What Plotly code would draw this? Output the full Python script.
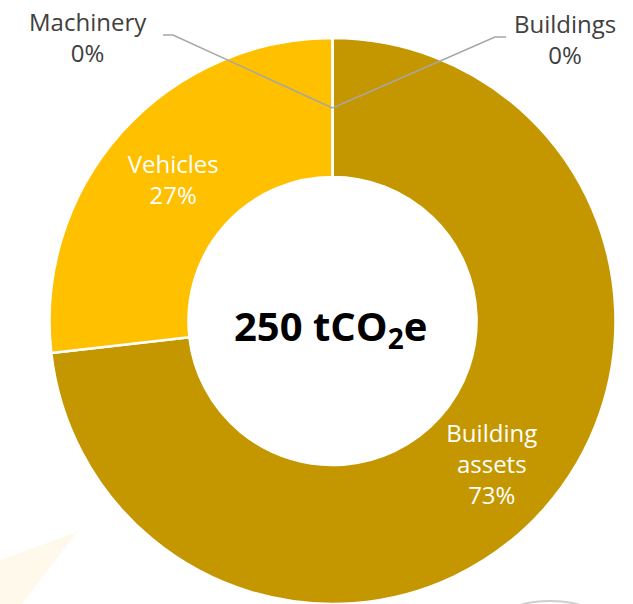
import plotly.graph_objects as go

# ---- data ----
categories = ["Buildings", "Building assets", "Vehicles", "Machinery"]
display_names = ["Buildings", "Building<br>assets", "Vehicles", "Machinery"]
values = [0, 183, 67, 0]          # tCO2e
colors = ["#8C6A00", "#C49700", "#FFC000", "#FFD966"]
total_label = "250 tCO<sub>2</sub>e"

W, H = 633, 604
total = sum(values)


def px(x):
    return x / W


def py(y):
    return 1 - y / H


fig = go.Figure()
fig.add_trace(go.Pie(
    labels=categories,
    values=values,
    text=display_names,
    texttemplate="%{text}<br>%{percent:.0%}",
    textposition=["none", "inside", "inside", "none"],
    insidetextorientation="horizontal",
    textfont=dict(family="Open Sans", size=24, color="white"),
    hole=0.509,
    sort=False,
    direction="clockwise",
    rotation=0,
    marker=dict(colors=colors, line=dict(color="white", width=2.5)),
    domain=dict(x=[px(332.5 - 283), px(332.5 + 283)], y=[0, py(38)]),
    showlegend=False,
    hoverinfo="label+percent",
))

# outside labels for the zero-value slices
outside = {"Machinery": (88, 37), "Buildings": (565, 39)}
annotations = []
for name, (ax, ay) in outside.items():
    i = categories.index(name)
    pct = 100 * values[i] / total
    annotations.append(dict(
        x=px(ax), y=py(ay), xref="paper", yref="paper",
        text=f"{display_names[i]}<br>{pct:.0f}%", showarrow=False,
        font=dict(family="Open Sans", size=24, color="#404040"),
        align="center", xanchor="center", yanchor="middle",
    ))

annotations.append(dict(
    x=px(330), y=py(327), xref="paper", yref="paper",
    text=f"<b>{total_label}</b>", showarrow=False,
    font=dict(family="Open Sans", size=40, color="black"),
    xanchor="center", yanchor="middle",
))

shapes = []
# faint background decorations
shapes.append(dict(type="path", xref="paper", yref="paper", layer="below",
                   path=f"M {px(0)},{py(560)} L {px(77)},{py(532)} L {px(22)},{py(604)} L {px(0)},{py(604)} Z",
                   fillcolor="#FFF9EC", line=dict(width=0)))
shapes.append(dict(type="circle", xref="paper", yref="paper", layer="below",
                   x0=px(500), x1=px(600), y0=py(640), y1=py(601),
                   fillcolor="rgba(0,0,0,0)", line=dict(color="#CFCFCF", width=2)))

# leader lines
shapes.append(dict(type="path", xref="paper", yref="paper",
                   path=f"M {px(163)},{py(35)} L {px(173)},{py(35)} L {px(332.5)},{py(108)}",
                   line=dict(color="#A6A6A6", width=1.5)))
shapes.append(dict(type="path", xref="paper", yref="paper",
                   path=f"M {px(332.5)},{py(108)} L {px(495)},{py(37)} L {px(506)},{py(37)}",
                   line=dict(color="#A6A6A6", width=1.5)))

fig.update_layout(
    width=W, height=H,
    margin=dict(l=0, r=0, t=0, b=0),
    paper_bgcolor="white", plot_bgcolor="white",
    annotations=annotations,
    shapes=shapes,
)

fig.write_html(
    "out.html",
    config={"displayModeBar": False},
    post_script="document.body.style.margin='0';document.body.style.overflow='hidden';",
)
